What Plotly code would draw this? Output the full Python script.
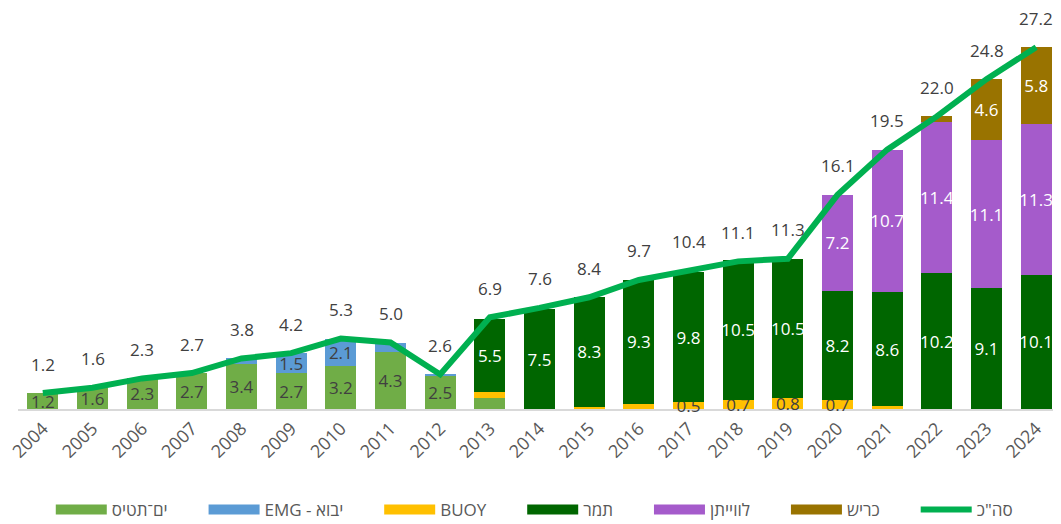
import plotly.graph_objects as go

years = [str(y) for y in range(2004, 2025)]
yam_tethys = [1.2, 1.6, 2.3, 2.7, 3.4, 2.7, 3.2, 4.3, 2.5, 0.8, 0, 0.05, 0, 0, 0, 0, 0, 0, 0, 0, 0]
emg = [0, 0, 0, 0, 0.4, 1.5, 2.1, 0.7, 0.1, 0, 0, 0, 0, 0, 0, 0, 0, 0, 0, 0, 0]
buoy = [0, 0, 0, 0, 0, 0, 0, 0, 0, 0.5, 0, 0.1, 0.4, 0.5, 0.7, 0.8, 0.7, 0.2, 0, 0, 0]
tamar = [0, 0, 0, 0, 0, 0, 0, 0, 0, 5.5, 7.5, 8.3, 9.3, 9.8, 10.5, 10.5, 8.2, 8.6, 10.2, 9.1, 10.1]
leviathan = [0, 0, 0, 0, 0, 0, 0, 0, 0, 0, 0, 0, 0, 0, 0, 0, 7.2, 10.7, 11.4, 11.1, 11.3]
karish = [0, 0, 0, 0, 0, 0, 0, 0, 0, 0, 0, 0, 0, 0, 0, 0, 0, 0, 0.4, 4.6, 5.8]
total = [1.2, 1.6, 2.3, 2.7, 3.8, 4.2, 5.3, 5.0, 2.6, 6.9, 7.6, 8.4, 9.7, 10.4, 11.1, 11.3, 16.1, 19.5, 22.0, 24.8, 27.2]

# years whose segment value is labelled
yam_labelled = years[0:9]
emg_labelled = ["2009", "2010"]
buoy_labelled = ["2017", "2018", "2019", "2020"]
tamar_labelled = years[9:]
leviathan_labelled = years[16:]
karish_labelled = ["2023", "2024"]

names = ["ים־תטיס", "EMG - יבוא", "BUOY", "תמר", "לווייתן", "כריש"]
total_name = 'סה"כ'
colors = ["#70AD47", "#5B9BD5", "#FFC000", "#006600", "#A55BCB", "#997300"]
series = [yam_tethys, emg, buoy, tamar, leviathan, karish]
labelled = [yam_labelled, emg_labelled, buoy_labelled, tamar_labelled, leviathan_labelled, karish_labelled]
text_colors = ["#404040", "#404040", "#404040", "white", "white", "white"]

FONT = "Open Sans, DejaVu Sans, sans-serif"
PAD = "\u00a0" * 7

fig = go.Figure()
for name, col, vals, lab, tcol in zip(names, colors, series, labelled, text_colors):
    txt = [f"{v:.1f}" if y in lab else "" for y, v in zip(years, vals)]
    fig.add_trace(go.Bar(
        x=years, y=vals, name=name, marker_color=col,
        marker_line_width=0, text=txt, textposition="inside",
        insidetextanchor="middle", textangle=0,
        textfont=dict(color=tcol, size=17, family=FONT),
        cliponaxis=False, showlegend=False, legendgroup=name,
    ))
    fig.add_trace(go.Scatter(
        x=[years[0]], y=[None], mode="lines", name=name + PAD, legendgroup=name,
        line=dict(color=col, width=15),
    ))

fig.add_trace(go.Scatter(
    x=years, y=total, mode="lines", name=total_name,
    line=dict(color="#00B050", width=6), cliponaxis=False,
))

for i, t in enumerate(total):
    fig.add_annotation(x=i, y=t, text=f"{t:.1f}", showarrow=False, yshift=29,
                       font=dict(size=17, color="#404040", family=FONT))

fig.update_layout(
    barmode="stack", bargap=0.376,
    width=1053, height=516,
    margin=dict(l=10, r=0, t=2, b=115, autoexpand=False),
    plot_bgcolor="white", paper_bgcolor="white",
    font=dict(family=FONT, color="#595959", size=17),
    uniformtext=dict(mode="show", minsize=17),
    legend=dict(orientation="h", x=0.495, xanchor="center", y=-0.253, yanchor="middle",
                font=dict(size=17, color="#595959", family=FONT), itemwidth=51,
                traceorder="normal"),
    xaxis=dict(type="category", range=[-0.5, 20.5], tickangle=-45, showline=True,
               linecolor="#D9D9D9", linewidth=2, automargin=False, layer="below traces",
               ticks="", tickfont=dict(size=18, color="#595959")),
    yaxis=dict(range=[0, 30], showgrid=False, showticklabels=False, zeroline=False,
               showline=False, automargin=False),
)

fig.write_html("out.html")
